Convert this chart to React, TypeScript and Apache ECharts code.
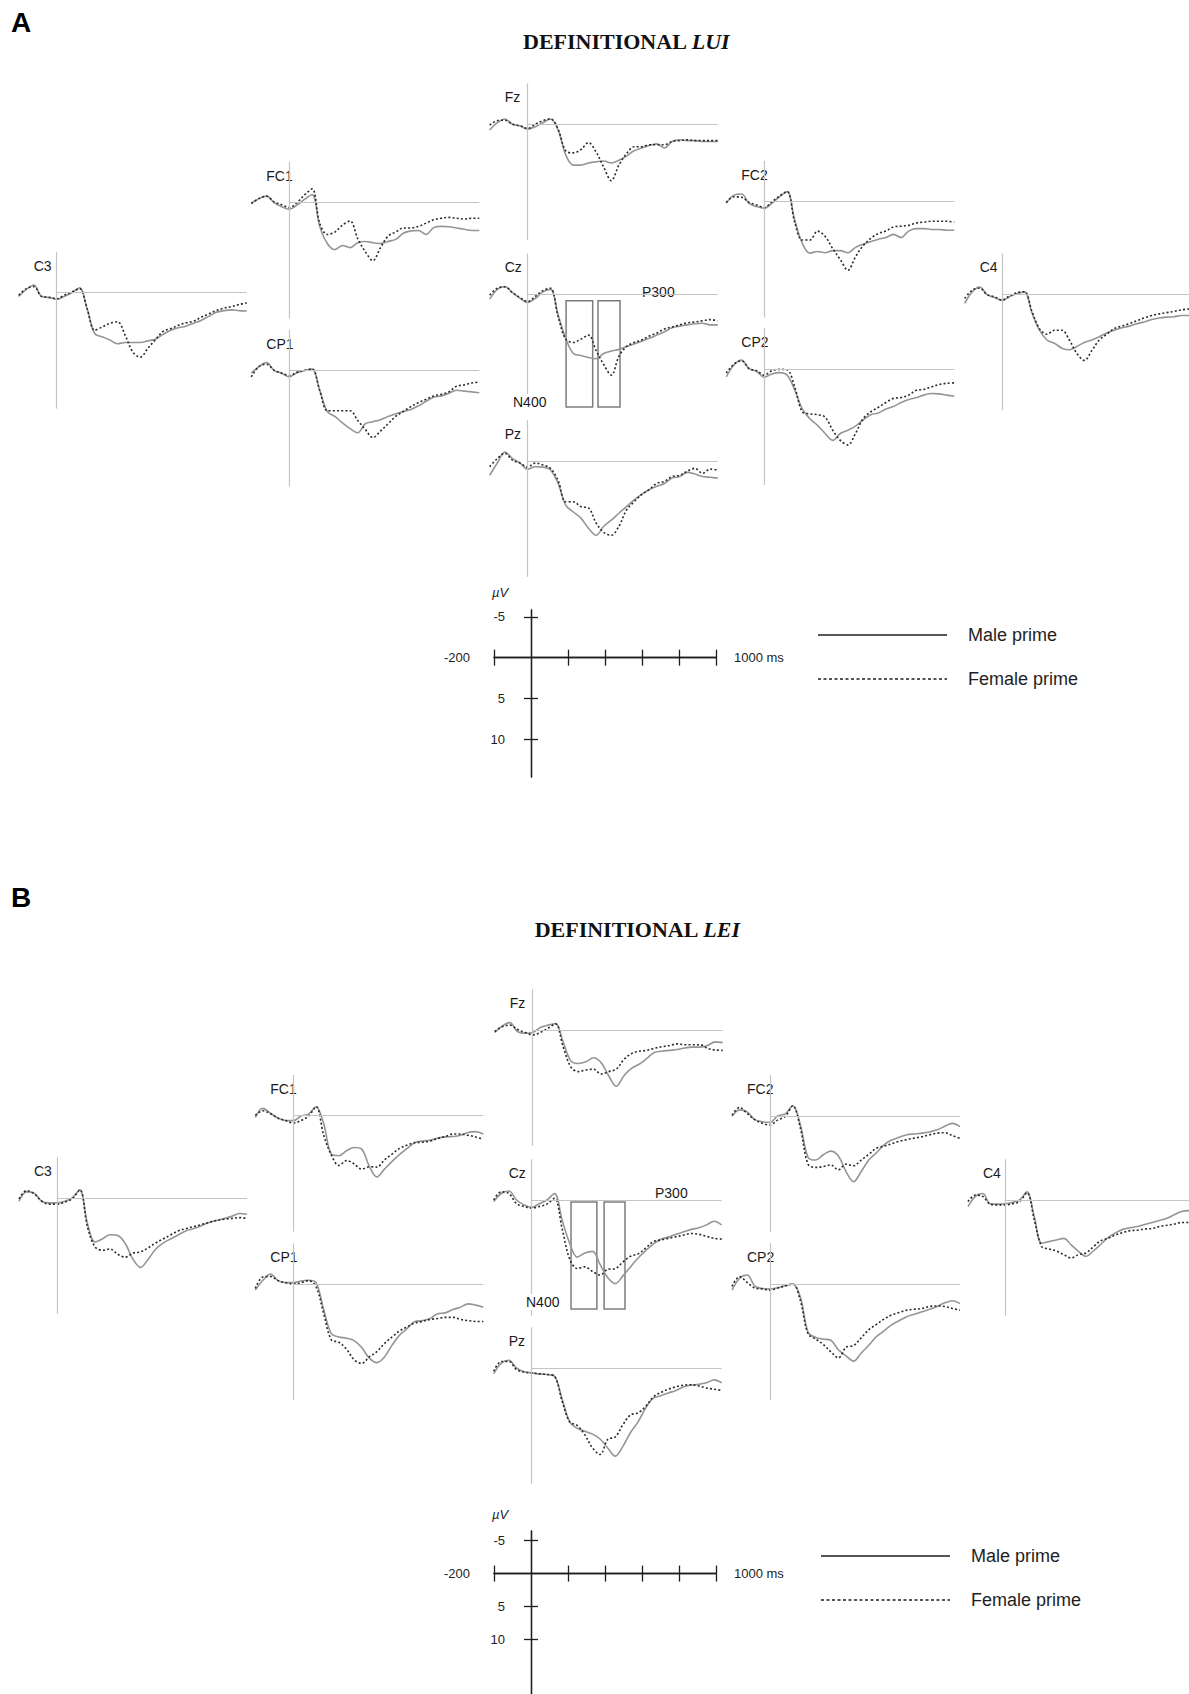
import React, { useEffect, useRef } from "react";
import * as echarts from "echarts";

// ---------- time axis (ms) shared by every trace ----------
const TIMES = [-200, -160, -120, -80, -40, 0, 40, 80, 120, 160, 200, 240, 280, 320, 360, 400, 440, 480, 520, 560, 600, 640, 680, 720, 760, 800, 840, 880, 920, 960, 1000];

// ---------- Panel A: DEFINITIONAL LUI (µV, negative up) ----------
const A_C3_MALE = [0.45, -0.4, -0.95, 0.45, 0.6, 0.8, 0.45, 0, -0.6, 2.0, 5.0, 5.4, 5.8, 6.25, 6.1, 6.1, 6.1, 5.9, 5.7, 5.1, 4.6, 4.3, 4.1, 3.75, 3.4, 2.9, 2.4, 2.2, 2.1, 2.2, 2.25];
const A_C3_FEMALE = [0.3, -0.5, -0.75, 0.45, 0.55, 0.75, 0.3, -0.1, -0.5, 1.9, 4.6, 4.2, 3.75, 3.55, 5.2, 7.25, 7.9, 6.8, 5.75, 4.75, 4.4, 4.0, 3.7, 3.5, 3.0, 2.6, 2.2, 1.9, 1.7, 1.45, 1.25];
const A_FC1_MALE = [0.1, -0.5, -0.8, 0, 0.5, 0.8, 0.3, -0.4, -1.0, 2.9, 5.0, 5.75, 5.25, 5.5, 4.9, 4.75, 4.9, 5.0, 4.75, 4.5, 3.75, 3.45, 3.4, 3.9, 3.05, 2.9, 2.95, 3.1, 3.25, 3.4, 3.4];
const A_FC1_FEMALE = [0.1, -0.5, -0.8, -0.1, 0.25, 0.6, 0, -0.95, -1.7, 2.5, 3.9, 3.6, 2.75, 2.25, 4.4, 6.0, 7.1, 5.5, 4.1, 3.6, 3.1, 3.1, 2.9, 2.5, 2.1, 1.9, 1.8, 1.9, 2.0, 1.9, 1.9];
const A_CP1_MALE = [0.3, -0.5, -1.0, -0.05, 0.3, 0.75, 0.25, 0, -0.2, 2.4, 5.0, 5.6, 6.4, 7.1, 7.6, 6.5, 6.25, 6.0, 5.6, 5.3, 5.0, 4.75, 4.3, 3.75, 3.25, 3.1, 2.75, 2.4, 2.5, 2.6, 2.7];
const A_CP1_FEMALE = [0.75, -0.5, -0.8, -0.05, 0.3, 0.6, 0.2, -0.05, -0.2, 2.4, 4.9, 4.9, 4.9, 4.9, 6.1, 7.2, 8.2, 7.4, 6.5, 5.6, 5.0, 4.4, 3.9, 3.5, 3.1, 2.9, 2.6, 1.9, 1.75, 1.5, 1.4];
const A_FZ_MALE = [0.7, -0.2, -0.65, 0, 0.2, 0.6, 0.3, -0.2, -0.65, 0.7, 3.75, 5.0, 5.0, 4.75, 4.6, 4.5, 4.75, 4.4, 3.9, 3.25, 2.9, 2.6, 2.4, 2.9, 2.1, 1.9, 2.0, 2.0, 2.1, 2.1, 2.1];
const A_FZ_FEMALE = [0.1, -0.45, -0.5, 0, 0.2, 0.5, 0, -0.45, -0.65, 0.6, 3.25, 3.5, 3.1, 2.25, 3.4, 5.25, 6.9, 5.0, 3.6, 2.75, 2.75, 2.5, 2.5, 2.5, 2.1, 2.0, 1.9, 2.0, 2.0, 2.0, 2.0];
const A_CZ_MALE = [0.6, -0.6, -0.95, -0.2, 0.5, 1.0, 0.5, -0.3, -0.6, 2.5, 5.4, 7.25, 7.5, 7.75, 7.9, 7.25, 6.95, 6.75, 6.4, 6.1, 5.75, 5.4, 5.0, 4.6, 4.1, 3.9, 3.75, 3.6, 3.55, 3.75, 3.75];
const A_CZ_FEMALE = [0.1, -0.75, -0.9, -0.2, 0.4, 0.9, 0.25, -0.45, -0.75, 2.75, 5.5, 5.9, 5.5, 5.0, 6.9, 8.6, 9.9, 7.6, 6.4, 5.9, 5.6, 5.1, 4.75, 4.25, 4.0, 3.75, 3.5, 3.4, 3.25, 3.1, 3.25];
const A_PZ_MALE = [1.75, 0.25, -1.1, -0.3, 0.25, 1.0, 0.7, 0.75, 1.1, 2.75, 5.4, 6.25, 7.0, 8.25, 9.1, 8.0, 7.25, 6.4, 5.6, 4.75, 4.1, 3.5, 3.1, 2.75, 2.1, 1.9, 1.4, 1.6, 1.9, 2.0, 2.1];
const A_PZ_FEMALE = [0.7, -0.3, -0.95, -0.1, 0.25, 0.75, 0.25, 0.5, 0.9, 2.4, 5.0, 5.0, 5.6, 5.75, 7.6, 8.75, 9.1, 8.0, 6.0, 5.0, 4.1, 3.5, 2.75, 2.5, 1.9, 1.75, 1.25, 0.9, 1.5, 1.0, 1.1];
const A_FC2_MALE = [0.2, -0.8, -0.95, 0.2, 0.6, 0.8, 0.2, -0.6, -1.25, 2.25, 5.1, 6.3, 6.1, 6.25, 6.0, 6.0, 6.25, 5.6, 5.2, 4.9, 4.6, 4.4, 4.0, 4.4, 3.6, 3.3, 3.3, 3.4, 3.4, 3.5, 3.5];
const A_FC2_FEMALE = [0.1, -0.6, -0.55, 0.1, 0.4, 0.7, 0, -0.7, -1.25, 2.5, 4.7, 4.7, 3.6, 4.25, 5.75, 7.1, 8.4, 6.75, 5.4, 4.5, 3.9, 3.6, 3.1, 3.0, 2.9, 2.6, 2.5, 2.4, 2.4, 2.4, 2.5];
const A_CP2_MALE = [0.95, -0.5, -1.1, -0.05, 0.3, 1.0, 0.6, 0.45, 0.75, 2.55, 4.9, 6.1, 6.9, 7.9, 8.75, 7.9, 7.5, 7.0, 6.25, 5.6, 5.4, 4.9, 4.6, 4.1, 3.75, 3.5, 3.2, 3.0, 3.05, 3.2, 3.3];
const A_CP2_FEMALE = [0.5, -0.6, -1.0, -0.05, 0.2, 0.75, 0.2, 0.05, 0.1, 2.2, 5.25, 5.5, 5.6, 5.9, 7.5, 8.75, 9.3, 7.9, 6.1, 5.25, 4.7, 4.1, 3.6, 3.5, 3.2, 2.6, 2.5, 2.2, 1.9, 1.75, 1.7];
const A_C4_MALE = [1.1, -0.3, -0.9, 0.05, 0.4, 0.75, 0.3, -0.1, -0.3, 2.3, 4.4, 5.6, 6.0, 6.6, 6.8, 6.4, 5.9, 5.6, 5.2, 4.75, 4.4, 4.1, 3.9, 3.6, 3.4, 3.1, 2.9, 2.8, 2.75, 2.6, 2.6];
const A_C4_FEMALE = [0.5, -0.5, -0.75, 0.05, 0.3, 0.7, 0.2, -0.2, -0.3, 2.1, 4.2, 4.9, 4.4, 4.4, 5.6, 7.25, 8.1, 6.9, 5.6, 4.9, 4.2, 3.9, 3.6, 3.25, 2.9, 2.6, 2.4, 2.25, 2.1, 1.9, 1.8];

// ---------- Panel B: DEFINITIONAL LEI ----------
const B_C3_MALE = [0.4, -0.75, -0.6, 0.4, 0.6, 0.6, 0.4, 0, -1.0, 3.1, 5.4, 5.0, 4.5, 4.6, 5.6, 7.5, 8.5, 7.5, 6.25, 5.5, 5.0, 4.5, 4.0, 3.75, 3.4, 3.0, 2.75, 2.5, 2.25, 1.9, 2.0];
const B_C3_FEMALE = [0.1, -0.9, -0.5, 0.4, 0.75, 0.75, 0.5, 0.1, -1.0, 3.5, 6.0, 6.4, 6.25, 6.9, 7.25, 6.75, 6.6, 6.1, 5.5, 5.0, 4.5, 4.0, 3.75, 3.5, 3.25, 3.0, 2.75, 2.6, 2.5, 2.4, 2.5];
const B_FC1_MALE = [0.2, -0.9, -0.3, 0.3, 0.6, 0.6, 0.05, -0.2, -1.1, 1.0, 4.7, 4.9, 4.3, 3.9, 4.1, 6.2, 7.5, 6.55, 5.6, 4.75, 4.0, 3.3, 3.1, 3.0, 2.75, 2.6, 2.55, 2.4, 2.05, 1.95, 2.25];
const B_FC1_FEMALE = [-0.05, -0.6, -0.25, 0.3, 0.6, 0.9, 0.6, 0.05, -1.1, 2.4, 4.8, 6.1, 5.5, 5.9, 6.55, 6.25, 6.3, 5.4, 4.7, 4.0, 3.6, 3.3, 3.25, 3.1, 2.8, 2.55, 2.25, 2.25, 2.4, 2.6, 2.9];
const B_CP1_MALE = [0.7, -0.5, -1.25, -0.45, -0.2, -0.2, -0.4, -0.5, -0.2, 3.1, 6.05, 6.45, 6.6, 6.9, 7.75, 9.05, 9.6, 8.9, 7.45, 6.2, 5.4, 4.55, 4.45, 4.2, 3.6, 3.5, 3.1, 2.8, 2.4, 2.55, 2.8];
const B_CP1_FEMALE = [0.5, -0.9, -0.95, -0.45, -0.2, -0.05, -0.2, -0.45, 0.3, 3.6, 6.8, 7.1, 7.95, 9.25, 9.7, 8.9, 8.25, 7.25, 6.45, 5.7, 5.2, 4.75, 4.55, 4.3, 4.2, 4.05, 4.05, 4.3, 4.45, 4.55, 4.55];
const B_FZ_MALE = [0.3, -0.5, -0.9, 0.2, 0.4, 0.3, -0.3, -0.6, -0.8, 1.45, 3.75, 4.1, 3.9, 3.4, 4.0, 5.6, 6.9, 5.6, 4.7, 4.2, 3.5, 2.75, 2.6, 2.5, 2.4, 2.2, 2.1, 2.1, 1.9, 1.45, 1.55];
const B_FZ_FEMALE = [0.2, -0.4, -0.6, -0.05, 0.3, 0.6, 0.3, -0.2, -0.75, 2.05, 4.5, 5.1, 4.9, 4.8, 5.4, 5.1, 4.8, 3.6, 2.9, 2.6, 2.5, 2.25, 2.05, 1.9, 1.7, 1.8, 1.8, 1.8, 2.25, 2.45, 2.5];
const B_CZ_MALE = [0.2, -0.8, -1.1, 0, 0.6, 0.9, 0.45, 0, -0.8, 2.45, 5.3, 7.0, 6.5, 6.3, 7.9, 9.5, 10.25, 9.3, 8.2, 7.1, 6.2, 5.4, 4.8, 4.55, 4.2, 3.9, 3.6, 3.4, 3.05, 2.6, 3.05];
const B_CZ_FEMALE = [0, -1.0, -0.8, 0.45, 0.8, 1.0, 0.8, 0.5, -0.2, 3.5, 7.25, 8.4, 8.2, 8.75, 9.2, 8.5, 8.4, 7.6, 6.9, 6.6, 5.9, 5.1, 4.9, 4.7, 4.5, 4.3, 4.1, 4.2, 4.45, 4.7, 4.8];
const B_PZ_MALE = [0.7, -0.6, -0.95, 0, 0.45, 0.6, 0.75, 0.8, 1.0, 3.8, 6.6, 7.4, 7.75, 8.1, 8.7, 9.8, 10.8, 9.6, 7.9, 6.6, 4.9, 3.7, 3.4, 3.05, 2.75, 2.3, 2.1, 2.0, 1.8, 1.45, 1.8];
const B_PZ_FEMALE = [0.4, -0.8, -0.8, 0.2, 0.5, 0.6, 0.7, 0.8, 1.0, 4.05, 6.6, 7.05, 8.2, 9.8, 10.6, 8.75, 8.45, 6.95, 5.75, 5.5, 4.7, 3.55, 3.0, 2.6, 2.3, 2.1, 2.05, 2.2, 2.45, 2.6, 2.75];
const B_FC2_MALE = [0.05, -0.75, -0.5, 0.45, 0.7, 0.8, 0, -0.25, -1.25, 1.1, 5.05, 5.4, 4.75, 4.3, 4.9, 6.8, 8.05, 6.8, 5.4, 4.5, 3.55, 2.95, 2.6, 2.3, 2.2, 2.1, 1.95, 1.7, 1.25, 0.9, 1.3];
const B_FC2_FEMALE = [-0.1, -1.05, -0.3, 0.45, 0.9, 1.1, 0.5, 0.05, -1.25, 1.5, 5.9, 6.3, 6.2, 6.0, 6.6, 5.9, 6.1, 5.4, 4.7, 3.95, 3.7, 3.4, 3.1, 2.9, 2.7, 2.55, 2.3, 2.1, 2.05, 2.4, 2.75];
const B_CP2_MALE = [0.75, -0.7, -1.1, 0.25, 0.55, 0.6, 0.45, 0.2, 0, 1.6, 5.9, 6.55, 6.75, 6.9, 8.05, 8.8, 9.45, 8.45, 7.5, 6.45, 5.75, 5.0, 4.5, 4.0, 3.7, 3.4, 3.1, 2.75, 2.3, 2.05, 2.4];
const B_CP2_FEMALE = [0.3, -0.9, -0.2, 0.5, 0.6, 0.75, 0.5, 0.25, 0, 2.05, 6.1, 6.75, 7.4, 8.3, 9.05, 7.75, 7.55, 6.6, 5.6, 4.95, 4.3, 3.8, 3.5, 3.2, 3.1, 3.0, 2.75, 2.7, 2.75, 3.0, 3.2];
const B_C4_MALE = [0.8, -0.45, -0.8, 0.45, 0.5, 0.45, 0.3, 0, -1.0, 2.05, 5.3, 5.1, 4.9, 4.7, 5.5, 6.3, 6.9, 6.25, 5.45, 4.6, 4.05, 3.6, 3.4, 3.25, 3.0, 2.75, 2.5, 2.25, 1.8, 1.4, 1.3];
const B_C4_FEMALE = [0.2, -0.6, -0.45, 0.5, 0.6, 0.6, 0.45, 0.2, -0.9, 2.45, 5.7, 6.0, 6.25, 6.7, 7.1, 6.7, 6.5, 5.75, 5.0, 4.7, 4.3, 4.0, 3.75, 3.7, 3.55, 3.5, 3.25, 3.1, 2.95, 2.75, 2.75];

// analysis windows drawn on Cz: [start ms, end ms]
const A_WINDOWS = [[202, 342], [370, 486]];
const A_WINDOW_UV = [0.8, 13.8];
const B_WINDOWS = [[207, 343], [381, 491]];
const B_WINDOW_UV = [0.25, 13.35];

// calibration scale
const SCALE_X_TICKS = [-200, 200, 400, 600, 800, 1000];
const SCALE_Y_TICKS = [-5, 5, 10];

const ELECTRODES = ["C3", "FC1", "CP1", "Fz", "Cz", "Pz", "FC2", "CP2", "C4"];

const SERIES_A: Record<string, number[][]> = {
  C3: [A_C3_MALE, A_C3_FEMALE], FC1: [A_FC1_MALE, A_FC1_FEMALE], CP1: [A_CP1_MALE, A_CP1_FEMALE],
  Fz: [A_FZ_MALE, A_FZ_FEMALE], Cz: [A_CZ_MALE, A_CZ_FEMALE], Pz: [A_PZ_MALE, A_PZ_FEMALE],
  FC2: [A_FC2_MALE, A_FC2_FEMALE], CP2: [A_CP2_MALE, A_CP2_FEMALE], C4: [A_C4_MALE, A_C4_FEMALE],
};
const SERIES_B: Record<string, number[][]> = {
  C3: [B_C3_MALE, B_C3_FEMALE], FC1: [B_FC1_MALE, B_FC1_FEMALE], CP1: [B_CP1_MALE, B_CP1_FEMALE],
  Fz: [B_FZ_MALE, B_FZ_FEMALE], Cz: [B_CZ_MALE, B_CZ_FEMALE], Pz: [B_PZ_MALE, B_PZ_FEMALE],
  FC2: [B_FC2_MALE, B_FC2_FEMALE], CP2: [B_CP2_MALE, B_CP2_FEMALE], C4: [B_C4_MALE, B_C4_FEMALE],
};

// ---------- layout (pixel position of time 0 / 0 µV for each electrode) ----------
const LAYOUT_A: Record<string, number[]> = {
  C3: [56.7, 292.7], FC1: [289.3, 202.7], CP1: [289.3, 370.7], Fz: [527.7, 124.3], Cz: [527.7, 294.3],
  Pz: [527.7, 461], FC2: [764.3, 201.7], CP2: [764.3, 369], C4: [1002.7, 294.3],
};
const LAYOUT_B: Record<string, number[]> = {
  C3: [57, 1198], FC1: [293.3, 1115.7], CP1: [293.3, 1284.3], Fz: [532.7, 1030], Cz: [531.7, 1200],
  Pz: [531.7, 1368], FC2: [770, 1116], CP2: [770, 1284], C4: [1006, 1200],
};

const PANELS = [
  {
    letter: "A", word: "LUI", series: SERIES_A, layout: LAYOUT_A, windows: A_WINDOWS, winUv: A_WINDOW_UV,
    n400: [512, 402], p300: [642, 292], letterY: 22, titleX: 626, titleY: 41,
    legendX: 818, legendY: [635, 679], muY: 592,
    scale: { top: 610, zero: 657.7, bottom: 777, pxPerUv: 8.16 },
  },
  {
    letter: "B", word: "LEI", series: SERIES_B, layout: LAYOUT_B, windows: B_WINDOWS, winUv: B_WINDOW_UV,
    n400: [525, 1302], p300: [655, 1193], letterY: 897, titleX: 637, titleY: 929,
    legendX: 821, legendY: [1556, 1600], muY: 1514,
    scale: { top: 1531, zero: 1573.6, bottom: 1694, pxPerUv: 6.6 },
  },
];

const PX_PER_UV = 8.16;
const PX_PER_MS = 0.19;
const Y_MIN = -5;
const Y_MAX = 14.2;
const SANS = "'Liberation Sans', Arial, sans-serif";
const SERIF = "'Liberation Serif', 'Times New Roman', serif";

function buildOption() {
  const grid: any[] = [];
  const xAxis: any[] = [];
  const yAxis: any[] = [];
  const series: any[] = [];
  const graphic: any[] = [];

  PANELS.forEach((p) => {
    ELECTRODES.forEach((e) => {
      const [ax, by] = p.layout[e];
      const g = grid.length;
      grid.push({
        left: ax - 200 * PX_PER_MS,
        top: by + Y_MIN * PX_PER_UV,
        width: 1200 * PX_PER_MS,
        height: (Y_MAX - Y_MIN) * PX_PER_UV,
        containLabel: false,
      });
      xAxis.push({ type: "value", gridIndex: g, min: -200, max: 1000, show: false });
      yAxis.push({ type: "value", gridIndex: g, min: Y_MIN, max: Y_MAX, inverse: true, show: false });

      const ref: any = {
        type: "line",
        xAxisIndex: g,
        yAxisIndex: g,
        data: [],
        silent: true,
        z: 1,
        markLine: {
          silent: true,
          symbol: ["none", "none"],
          label: { show: false },
          emphasis: { disabled: true },
          lineStyle: { color: "#c4c4c4", width: 1.2, type: "solid" },
          data: [
            [{ coord: [0, 0] }, { coord: [1000, 0] }],
            [{ coord: [0, Y_MIN] }, { coord: [0, Y_MAX] }],
          ],
        },
      };
      if (e === "Cz") {
        ref.markArea = {
          silent: true,
          label: { show: false },
          emphasis: { disabled: true },
          itemStyle: { color: "rgba(0,0,0,0)", borderColor: "#7d7d7d", borderWidth: 1.5 },
          data: p.windows.map((w) => [{ coord: [w[0], p.winUv[0]] }, { coord: [w[1], p.winUv[1]] }]),
        };
      }
      series.push(ref);

      const [male, female] = p.series[e];
      series.push({
        type: "line",
        name: "Male prime",
        xAxisIndex: g,
        yAxisIndex: g,
        data: TIMES.map((t, i) => [t, male[i]]),
        smooth: 0.35,
        symbol: "none",
        silent: true,
        z: 2,
        lineStyle: { color: "#959595", width: 1.6 },
      });
      series.push({
        type: "line",
        name: "Female prime",
        xAxisIndex: g,
        yAxisIndex: g,
        data: TIMES.map((t, i) => [t, female[i]]),
        smooth: 0.35,
        symbol: "none",
        silent: true,
        z: 3,
        lineStyle: { color: "#2a2a2a", width: 1.6, type: [2, 2.2] },
      });

      graphic.push({
        type: "text",
        x: ax - 23,
        y: by - 27,
        style: { text: e, fontSize: 14, fontFamily: SANS, fill: "#1a1a1a", align: "left", verticalAlign: "middle" },
      });
    });

    // N400 / P300 annotations
    graphic.push({
      type: "text", x: p.n400[0], y: p.n400[1], z: 10,
      style: {
        text: "N400", fontSize: 14, fontFamily: SANS, fill: "#1a1a1a", align: "left", verticalAlign: "middle",
        backgroundColor: "#ffffff", padding: [1, 1],
      },
    });
    graphic.push({
      type: "text", x: p.p300[0], y: p.p300[1],
      style: { text: "P300", fontSize: 14, fontFamily: SANS, fill: "#1a1a1a", align: "left", verticalAlign: "middle" },
    });

    // panel letter and title
    graphic.push({
      type: "text", x: 11, y: p.letterY,
      style: { text: p.letter, fontSize: 28, fontWeight: "bold", fontFamily: SANS, fill: "#000", align: "left", verticalAlign: "middle" },
    });
    graphic.push({
      type: "text", x: p.titleX, y: p.titleY,
      style: {
        text: "{b|DEFINITIONAL }{bi|" + p.word + "}",
        align: "center",
        verticalAlign: "middle",
        rich: {
          b: { fontFamily: SERIF, fontWeight: "bold", fontSize: 22, fill: "#111", color: "#111" },
          bi: { fontFamily: SERIF, fontWeight: "bold", fontStyle: "italic", fontSize: 22, fill: "#111", color: "#111" },
        },
      },
    });

    // legend
    graphic.push({
      type: "line", shape: { x1: p.legendX, y1: p.legendY[0], x2: p.legendX + 129, y2: p.legendY[0] },
      style: { stroke: "#1e1e1e", lineWidth: 1.6 },
    });
    graphic.push({
      type: "text", x: p.legendX + 150, y: p.legendY[0],
      style: { text: "Male prime", fontSize: 18, fontFamily: SANS, fill: "#1e1e1e", verticalAlign: "middle" },
    });
    graphic.push({
      type: "line", shape: { x1: p.legendX, y1: p.legendY[1], x2: p.legendX + 129, y2: p.legendY[1] },
      style: { stroke: "#1e1e1e", lineWidth: 1.4, lineDash: [3, 2.5] },
    });
    graphic.push({
      type: "text", x: p.legendX + 150, y: p.legendY[1],
      style: { text: "Female prime", fontSize: 18, fontFamily: SANS, fill: "#1e1e1e", verticalAlign: "middle" },
    });
    graphic.push({
      type: "text", x: 500, y: p.muY,
      style: { text: "µV", fontSize: 13, fontStyle: "italic", fontFamily: SANS, fill: "#1e1e1e", align: "center", verticalAlign: "middle" },
    });
  });

  // calibration scales
  PANELS.forEach((p) => {
    const s = p.scale;
    const g = grid.length;
    const xi = xAxis.length;
    const yi = yAxis.length;
    const scaleMin = -(s.zero - s.top) / s.pxPerUv;
    const scaleMax = (s.bottom - s.zero) / s.pxPerUv;
    grid.push({ left: 494, top: s.top, width: 222, height: s.bottom - s.top, containLabel: false });
    const lineStyle = { color: "#1e1e1e", width: 1.3 };
    const nameStyle = { fontSize: 13, fontFamily: SANS, color: "#1e1e1e" };
    xAxis.push({
      type: "value", gridIndex: g, min: -200, max: 1000, position: "bottom",
      axisLine: { show: true, onZero: true, onZeroAxisIndex: yi, lineStyle },
      axisTick: { show: true, inside: false, length: 8, customValues: SCALE_X_TICKS, lineStyle },
      axisLabel: { show: false }, splitLine: { show: false },
      name: "1000 ms", nameLocation: "end", nameGap: 18, nameTextStyle: nameStyle,
    });
    xAxis.push({
      type: "value", gridIndex: g, min: -200, max: 1000, position: "bottom",
      axisLine: { show: true, onZero: true, onZeroAxisIndex: yi, lineStyle },
      axisTick: { show: true, inside: true, length: 8, customValues: SCALE_X_TICKS, lineStyle },
      axisLabel: { show: false }, splitLine: { show: false },
      name: "-200", nameLocation: "start", nameGap: 24, nameTextStyle: nameStyle,
    });
    yAxis.push({
      type: "value", gridIndex: g, min: scaleMin, max: scaleMax, inverse: true, position: "left",
      axisLine: { show: true, onZero: true, onZeroAxisIndex: xi, lineStyle },
      axisTick: { show: true, inside: false, length: 7, customValues: SCALE_Y_TICKS, lineStyle },
      axisLabel: {
        show: true, customValues: SCALE_Y_TICKS, margin: -11, fontSize: 13, fontFamily: SANS, color: "#1e1e1e",
        formatter: (v: number) => (v === 0 ? "" : String(v)),
      },
      splitLine: { show: false },
    });
    yAxis.push({
      type: "value", gridIndex: g, min: scaleMin, max: scaleMax, inverse: true, position: "left",
      axisLine: { show: true, onZero: true, onZeroAxisIndex: xi, lineStyle },
      axisTick: { show: true, inside: true, length: 7, customValues: SCALE_Y_TICKS, lineStyle },
      axisLabel: { show: false }, splitLine: { show: false },
    });
    series.push({ type: "line", xAxisIndex: xi, yAxisIndex: yi, data: [], silent: true });
  });

  return {
    animation: false,
    backgroundColor: "#ffffff",
    grid,
    xAxis,
    yAxis,
    series,
    graphic,
  };
}

export default function App() {
  const ref = useRef<HTMLDivElement>(null);
  useEffect(() => {
    if (!ref.current) return;
    const chart = echarts.init(ref.current, undefined, { renderer: "svg" });
    chart.setOption(buildOption() as any);
    return () => chart.dispose();
  }, []);
  return (
    <div
      ref={ref}
      style={{ position: "absolute", left: 0, top: 0, width: 1189, height: 1694, background: "#fff" }}
    />
  );
}
